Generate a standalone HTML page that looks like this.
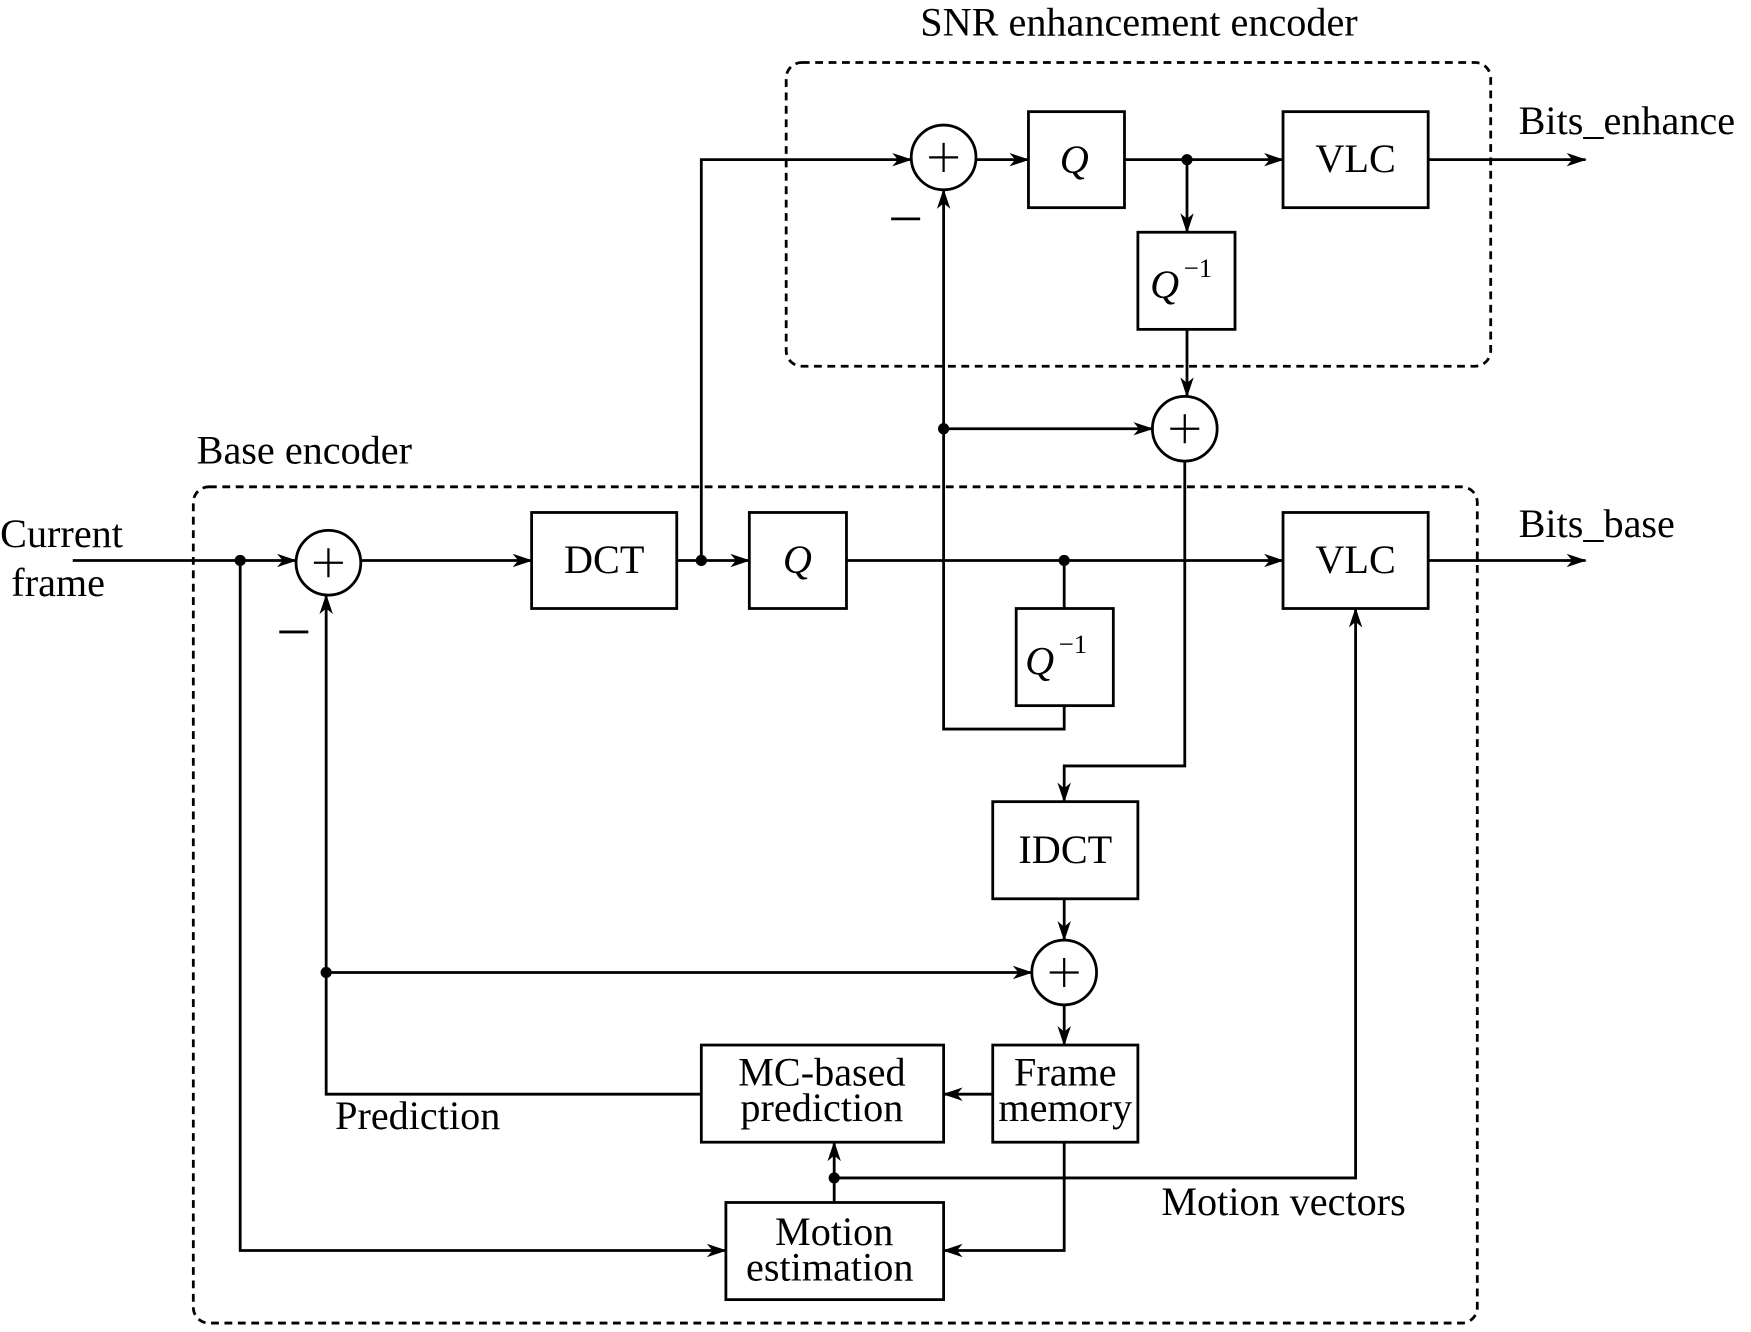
<!DOCTYPE html>
<html><head><meta charset="utf-8"><style>html,body{margin:0;padding:0;background:#fff}svg{display:block}</style></head>
<body>
<svg width="1751" height="1332" viewBox="0 0 1568 1193" xmlns="http://www.w3.org/2000/svg" font-family="Liberation Serif, serif" font-size="36">
<defs><marker id="a" markerWidth="18" markerHeight="12" refX="17" refY="6" orient="auto" markerUnits="userSpaceOnUse"><path d="M0,0 L18,6 L0,12 L5,6 Z" fill="#000"/></marker></defs>
<g fill="none" stroke="#000" stroke-width="2.5">
<rect x="704" y="56" width="631" height="272" rx="14" stroke-dasharray="7,5"/>
<rect x="173" y="436" width="1150" height="749" rx="14" stroke-dasharray="7,5"/>
<circle cx="294" cy="504" r="29"/><circle cx="845" cy="141" r="29"/><circle cx="1061" cy="384" r="29"/><circle cx="953" cy="871" r="29"/>
<rect x="476" y="459" width="130" height="86"/><rect x="671" y="459" width="87" height="86"/><rect x="1149" y="459" width="130" height="86"/>
<rect x="910" y="545" width="87" height="87"/><rect x="921" y="100" width="86" height="86"/><rect x="1149" y="100" width="130" height="86"/>
<rect x="1019" y="208" width="87" height="87"/><rect x="889" y="718" width="130" height="87"/><rect x="889" y="936" width="130" height="87"/>
<rect x="628" y="936" width="217" height="87"/><rect x="650" y="1077" width="195" height="87"/>
<path d="M65 502H265" marker-end="url(#a)"/><path d="M323 502H476" marker-end="url(#a)"/><path d="M606 502H671" marker-end="url(#a)"/>
<path d="M758 502H1149" marker-end="url(#a)"/><path d="M1279 502H1420" marker-end="url(#a)"/>
<path d="M953 502V545M953 632V653H845V170" marker-end="url(#a)"/>
<path d="M628 502V143H816" marker-end="url(#a)"/><path d="M874 143H921" marker-end="url(#a)"/>
<path d="M1007 143H1149" marker-end="url(#a)"/><path d="M1279 143H1420" marker-end="url(#a)"/>
<path d="M1063 143V208" marker-end="url(#a)"/><path d="M1063 295V355" marker-end="url(#a)"/>
<path d="M845 384H1032" marker-end="url(#a)"/>
<path d="M1061 413V686H953V718" marker-end="url(#a)"/><path d="M953 805V842" marker-end="url(#a)"/>
<path d="M292 871H924" marker-end="url(#a)"/><path d="M953 900V936" marker-end="url(#a)"/>
<path d="M889 980H845" marker-end="url(#a)"/><path d="M628 980H292V533" marker-end="url(#a)"/>
<path d="M215 502V1120H650" marker-end="url(#a)"/><path d="M953 1023V1120H845" marker-end="url(#a)"/>
<path d="M747 1077V1023" marker-end="url(#a)"/><path d="M747 1055H1214V545" marker-end="url(#a)"/>
<path d="M798 196H824M250 566H276"/>
<path d="M281 504H307M294 491V517M832 141H858M845 128V154M1048 384H1074M1061 371V397M940 871H966M953 858V884" stroke-width="2"/>
</g>
<g fill="#000"><circle cx="215" cy="502" r="5"/><circle cx="628" cy="502" r="5"/><circle cx="953" cy="502" r="5"/><circle cx="1063" cy="143" r="5"/><circle cx="845" cy="384" r="5"/><circle cx="292" cy="871" r="5"/><circle cx="747" cy="1055" r="5"/></g>
<g text-anchor="middle">
<text x="541" y="513">DCT</text><text x="714" y="513" font-style="italic">Q</text><text x="1214" y="513">VLC</text>
<text x="962" y="155" font-style="italic">Q</text><text x="1214" y="154">VLC</text>
<text x="954" y="773">IDCT</text><text x="954" y="972">Frame</text><text x="954" y="1004">memory</text>
<text x="736" y="972">MC-based</text><text x="736" y="1004">prediction</text>
<text x="747" y="1115">Motion</text><text x="743" y="1147">estimation</text>
<text x="1020" y="32">SNR enhancement encoder</text>
</g>
<text x="1030" y="267" font-style="italic">Q</text><text x="1060" y="248" font-size="24">−1</text>
<text x="918" y="604" font-style="italic">Q</text><text x="948" y="585" font-size="24">−1</text>
<text x="0" y="490">Current</text><text x="10" y="534">frame</text>
<text x="176" y="415">Base encoder</text>
<text x="1360" y="120">Bits_enhance</text><text x="1360" y="481">Bits_base</text>
<text x="300" y="1011">Prediction</text><text x="1040" y="1088">Motion vectors</text>
</svg>
</body></html>
